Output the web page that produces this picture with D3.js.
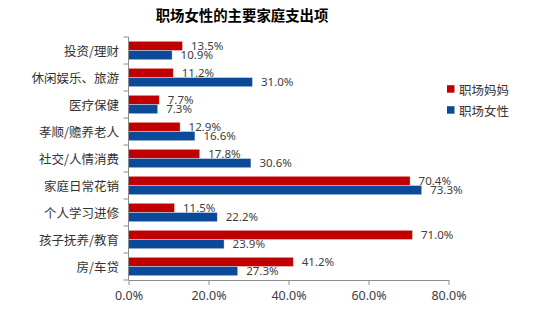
<!DOCTYPE html>
<html>
<head>
<meta charset="utf-8">
<script src="https://cdn.jsdelivr.net/npm/d3@7"></script>
<style>
  html, body { margin: 0; padding: 0; background: #fff; }
  svg { display: block; }
</style>
</head>
<body>
<svg id="chart" width="550" height="334"></svg>
<script>
// Household spending categories, listed top to bottom
const categories = ["投资/理财", "休闲娱乐、旅游", "医疗保健", "孝顺/赡养老人", "社交/人情消费",
                    "家庭日常花销", "个人学习进修", "孩子抚养/教育", "房/车贷"];
const seriesNames = ["职场妈妈", "职场女性"];
const momValues   = [13.5, 11.2, 7.7, 12.9, 17.8, 70.4, 11.5, 71.0, 41.2];
const womenValues = [10.9, 31.0, 7.3, 16.6, 30.6, 73.3, 22.2, 23.9, 27.3];
const xTicks = [0, 20, 40, 60, 80];
const colors = ["#C00000", "#0B4A99"];

const svg = d3.select("#chart");
const plot = { left: 128.5, right: 448.5, top: 37, bottom: 280 };
const cjk = "'Noto Sans CJK SC', 'Noto Sans', sans-serif";
const latin = "'Noto Sans', 'Open Sans', sans-serif";

const x = d3.scaleLinear().domain([0, 80]).range([plot.left, plot.right]);
const y = d3.scaleBand().domain(categories).range([plot.top, plot.bottom]).paddingInner(0).paddingOuter(0);
const sub = d3.scaleBand().domain(seriesNames).range([0, y.bandwidth()]).paddingInner(0).paddingOuter(0.47);

const rows = categories.map((c, i) => ({ cat: c, vals: [momValues[i], womenValues[i]] }));

// Title
svg.append("text")
  .attr("x", 242).attr("y", 14)
  .attr("text-anchor", "middle").attr("dominant-baseline", "central")
  .style("font-family", cjk).style("font-size", "14.4px").style("font-weight", "bold")
  .style("fill", "#000")
  .text("职场女性的主要家庭支出项");

// Bars
const groups = svg.append("g").selectAll("g").data(rows).join("g")
  .attr("transform", d => `translate(0,${y(d.cat)})`);

groups.selectAll("rect")
  .data(d => d.vals.map((v, k) => ({ v, k })))
  .join("rect")
  .attr("x", x(0))
  .attr("y", d => sub(seriesNames[d.k]))
  .attr("width", d => x(d.v) - x(0))
  .attr("height", sub.bandwidth())
  .attr("fill", d => colors[d.k])
  .attr("stroke", "rgba(255,255,255,0.45)")
  .attr("stroke-width", 0.8);

// Value labels
groups.selectAll("text")
  .data(d => d.vals.map((v, k) => ({ v, k })))
  .join("text")
  .attr("x", d => x(d.v) + 8.5)
  .attr("y", d => sub(seriesNames[d.k]) + sub.bandwidth() / 2 - 0.5)
  .attr("dominant-baseline", "central")
  .style("font-family", latin).style("font-size", "11.5px")
  .style("fill", "#404040")
  .text(d => d.v.toFixed(1) + "%");

// X axis
const xAxis = svg.append("g")
  .attr("transform", `translate(0,${plot.bottom})`)
  .call(d3.axisBottom(x).tickValues(xTicks).tickFormat(d => d.toFixed(1) + "%")
        .tickSize(5).tickSizeOuter(0).tickPadding(6));
xAxis.select(".domain").attr("stroke", "#8c8c8c");
xAxis.selectAll(".tick line").attr("stroke", "#8c8c8c");
xAxis.selectAll(".tick text")
  .style("font-family", latin).style("font-size", "12.5px").style("fill", "#404040");

// Y axis: line with ticks at category boundaries
const yAxisG = svg.append("g");
yAxisG.append("line")
  .attr("x1", plot.left).attr("x2", plot.left)
  .attr("y1", plot.top).attr("y2", plot.bottom)
  .attr("stroke", "#8c8c8c");
const boundaries = categories.map(c => y(c)).concat([plot.bottom]);
yAxisG.selectAll("line.tick").data(boundaries).join("line")
  .attr("class", "tick")
  .attr("x1", plot.left - 5).attr("x2", plot.left)
  .attr("y1", d => d).attr("y2", d => d)
  .attr("stroke", "#8c8c8c");
yAxisG.selectAll("text").data(categories).join("text")
  .attr("x", plot.left - 9.5)
  .attr("y", d => y(d) + y.bandwidth() / 2)
  .attr("text-anchor", "end").attr("dominant-baseline", "central")
  .style("font-family", cjk).style("font-size", "12.5px").style("fill", "#333")
  .text(d => d);

// Legend
const legend = svg.append("g").attr("transform", "translate(447,89)");
const items = legend.selectAll("g").data(seriesNames).join("g")
  .attr("transform", (d, i) => `translate(0,${i * 21})`);
items.append("rect")
  .attr("x", 0).attr("y", -3.8).attr("width", 7.5).attr("height", 7.5)
  .attr("fill", (d, i) => colors[i]);
items.append("text")
  .attr("x", 12).attr("y", 0)
  .attr("dominant-baseline", "central")
  .style("font-family", cjk).style("font-size", "12.5px").style("fill", "#333")
  .text(d => d);
</script>
</body>
</html>
